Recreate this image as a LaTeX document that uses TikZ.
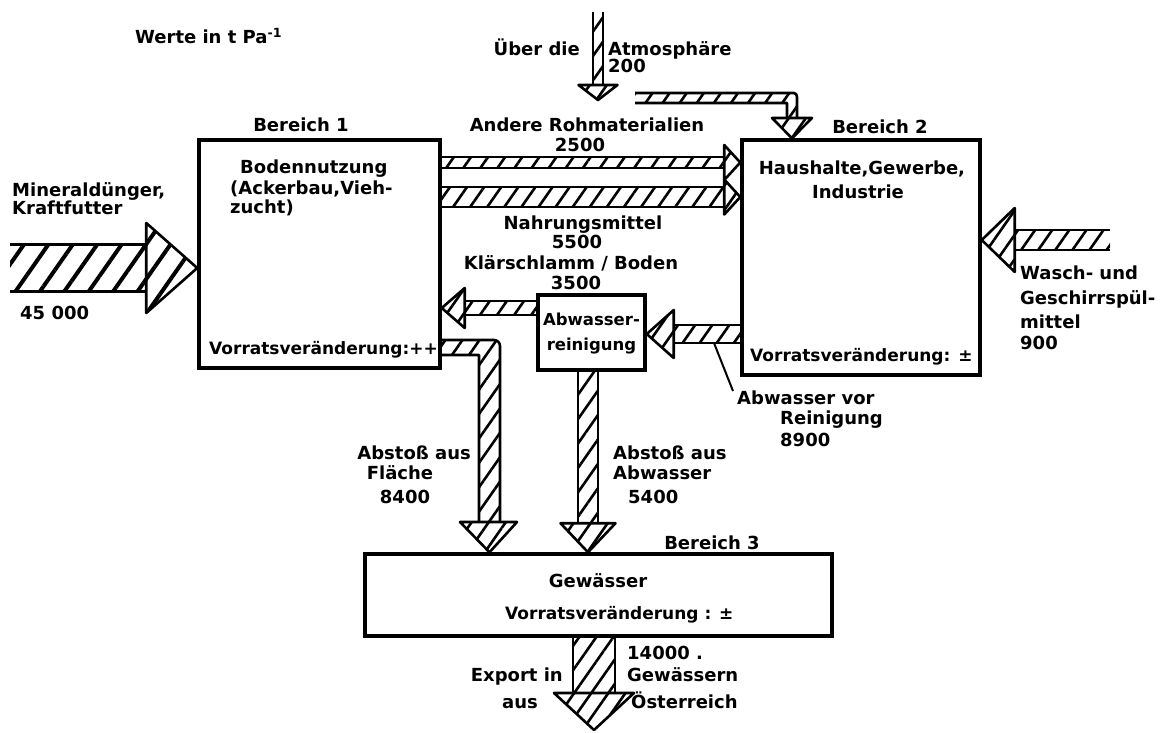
\documentclass[tikz,border=0pt]{standalone}
\usepackage{fontspec}
\setmainfont{DejaVu Sans}
\usetikzlibrary{calc,patterns.meta}

% hatched fat arrow: [pattern style] {tail}{tip}{shaft half width}{head half width}{head length}
\newcommand{\flowarrow}[6][hatch]{%
  \coordinate (fa-h) at ($(#3)!#6pt!(#2)$);
  \path[#1] ($(#2)!#4pt!90:(fa-h)$) -- ($(fa-h)!#4pt!90:(#3)$)
     -- ($(fa-h)!#4pt!-90:(#3)$) -- ($(#2)!#4pt!-90:(fa-h)$) -- cycle;
  \draw[flowline] ($(#2)!#4pt!90:(fa-h)$) -- ($(fa-h)!#4pt!90:(#3)$)
     ($(fa-h)!#4pt!-90:(#3)$) -- ($(#2)!#4pt!-90:(fa-h)$);
  \path[#1,flowline,draw] ($(fa-h)!#5pt!90:(#3)$) -- (#3) -- ($(fa-h)!#5pt!-90:(#3)$) -- cycle;
}

\tikzset{
  box/.style={draw, line width=3.5pt, inner sep=0pt},
  flowline/.style={line width=2.6pt, line join=round},
  hatch/.style={pattern={Lines[angle=55,distance=14pt,line width=2.6pt]}},
  hatchwide/.style={pattern={Lines[angle=55,distance=20pt,line width=4pt]}},
  lbl/.style={font=\bfseries\fontsize{18}{21}\selectfont, inner sep=0pt},
  lblsm/.style={font=\bfseries\fontsize{17}{20}\selectfont, inner sep=0pt},
  lblxs/.style={font=\bfseries\fontsize{16.5}{19}\selectfont, inner sep=0pt},
}

\begin{document}
\begin{tikzpicture}[x=1pt,y=1pt]
\useasboundingbox (0,0) rectangle (1163,-732);
\fill[white] (0,0) rectangle (1163,-732);

% the three regions and the treatment plant
\node[box, minimum width=241pt, minimum height=228pt] (b1) at (319.5,-254) {};
\node[box, minimum width=238pt, minimum height=235pt] (b2) at (861,-257.5) {};
\node[box, minimum width=107pt, minimum height=75pt] (ar) at (591.5,-332.5) {};
\node[box, minimum width=467pt, minimum height=82pt] (b3) at (598.5,-595) {};

% free ends of the inflows and outflows
\coordinate (minsrc) at (10,-268);
\coordinate (washsrc) at (1110,-240);
\coordinate (atmsrc) at (598,-12);
\coordinate (atmend) at (598,-100);
\coordinate (expend) at (594,-730);

% inflows
\flowarrow[hatchwide]{minsrc}{b1.west |- 0,-268}{23.5}{45}{51}
\flowarrow{washsrc}{b2.east |- 0,-240}{10}{32}{33}
\flowarrow{atmsrc}{atmend}{5}{19.5}{15}

% Bereich 1 -> Bereich 2
\flowarrow{b1.east |- 0,-162.5}{b2.west |- 0,-162.5}{5.5}{17.5}{16}
\flowarrow{b1.east |- 0,-197}{b2.west |- 0,-197}{10}{17.5}{16}

% sewage paths
\flowarrow{ar.west |- 0,-308}{b1.east |- 0,-308}{7}{20}{23}
\flowarrow{b2.west |- 0,-334}{ar.east |- 0,-334}{9}{24}{27}
\flowarrow{588,0 |- ar.south}{588,0 |- b3.north}{10}{27.5}{29}
\flowarrow{594,0 |- b3.south}{expend}{21}{40}{37}

% other raw materials, bent down into Bereich 2
\coordinate (rawtip) at (792,0 |- b2.north);
\path[hatch] (635,-93) -- (797,-93) -- (797,-118) -- (787,-118) -- (787,-103) -- (635,-103) -- cycle;
\draw[flowline] (635,-93) -- (794,-93) to[out=0,in=90] (797,-97) -- (797,-118)
                (635,-103) -- (787,-103) -- (787,-118);
\path[hatch,flowline,draw] (772,-118) -- (rawtip) -- (812,-118) -- cycle;

% run-off from the land surface
\coordinate (runtip) at (489.5,0 |- b3.north);
\path[hatch] (b1.east |- 0,-340) -- (500,-340) -- (500,-522) -- (479,-522) -- (479,-355) -- (b1.east |- 0,-355) -- cycle;
\draw[flowline] (b1.east |- 0,-340) -- (494,-340) to[out=0,in=90] (500,-346) -- (500,-522)
                (b1.east |- 0,-355) -- (479,-355) -- (479,-522);
\path[hatch,flowline,draw] (460,-522) -- (runtip) -- (517,-522) -- cycle;

% pointer to the untreated sewage label
\coordinate (ptra) at (714,-343);
\coordinate (ptrb) at (733,-391);
\draw[line width=2pt] (ptra) -- (ptrb);

% texts
\node[lbl, anchor=base west] (unit) at (135,-43.5) {Werte in t Pa\textsuperscript{-1}};
\node[lbl, anchor=base east] (atm1) at (580,-55.5) {Über die};
\node[lbl, anchor=base west] (atm2) at (608,-55.5) {Atmosphäre};
\node[lbl, anchor=base west] (atm3) at (608,-72) {200};

\node[lbl, anchor=base] (t1) at (301,-131.5) {Bereich 1};
\node[lbl, anchor=base] (t2) at (880,-133.5) {Bereich 2};
\node[lbl, anchor=base] (t3) at (712,-549.5) {Bereich 3};

\node[lbl, anchor=base] (raw1) at (587,-131.5) {Andere Rohmaterialien};
\node[lbl, anchor=base] (raw2) at (580,-151.5) {2500};
\node[lbl, anchor=base] (food1) at (583,-229.5) {Nahrungsmittel};
\node[lbl, anchor=base] (food2) at (577,-248.5) {5500};
\node[lbl, anchor=base] (sl1) at (571,-269.5) {Klärschlamm / Boden};
\node[lbl, anchor=base] (sl2) at (576,-289.5) {3500};

\node[lbl, anchor=base west] (b1a) at (240,-173.5) {Bodennutzung};
\node[lbl, anchor=base west] (b1b) at (230,-194.5) {(Ackerbau,Vieh-};
\node[lbl, anchor=base west] (b1c) at (230,-213.5) {zucht)};
\node[lblsm, anchor=base west] (b1d) at (209,-354) {Vorratsveränderung:++};

\node[lbl, anchor=base] (b2a) at (862,-174.5) {Haushalte,Gewerbe,};
\node[lbl, anchor=base] (b2b) at (858,-198.5) {Industrie};
\node[lblsm, anchor=base west] (b2c) at (750,-361) {Vorratsveränderung: ±};

\node[lblxs, anchor=base] (ara) at (591.5,-325) {Abwasser-};
\node[lblxs, anchor=base] (arb) at (591.5,-350) {reinigung};

\node[lbl, anchor=base west] (min1) at (12,-196.5) {Mineraldünger,};
\node[lbl, anchor=base west] (min2) at (12,-214.5) {Kraftfutter};
\node[lbl, anchor=base west] (min3) at (20,-319.5) {45 000};

\node[lbl, anchor=base west] (w1) at (1020,-279.5) {Wasch- und};
\node[lbl, anchor=base west] (w2) at (1020,-304.5) {Geschirrspül-};
\node[lbl, anchor=base west] (w3) at (1020,-328.5) {mittel};
\node[lbl, anchor=base west] (w4) at (1020,-349.5) {900};

\node[lbl, anchor=base west] (s1) at (737,-404) {Abwasser vor};
\node[lbl, anchor=base west] (s2) at (780,-424) {Reinigung};
\node[lbl, anchor=base west] (s3) at (780,-446) {8900};

\node[lbl, anchor=base east] (f1) at (471,-459.5) {Abstoß aus};
\node[lbl, anchor=base] (f2) at (400,-479.5) {Fläche};
\node[lbl, anchor=base] (f3) at (405,-503.5) {8400};

\node[lbl, anchor=base west] (a1) at (613,-459.5) {Abstoß aus};
\node[lbl, anchor=base west] (a2) at (613,-479.5) {Abwasser};
\node[lbl, anchor=base west] (a3) at (628,-503.5) {5400};

\node[lbl, anchor=base] (g1) at (598,-587.5) {Gewässer};
\node[lblsm, anchor=base west] (g2) at (505,-619.5) {Vorratsveränderung : ±};

\node[lbl, anchor=base west] (e1) at (627,-659.5) {14000 .};
\node[lbl, anchor=base west] (e2) at (627,-681.5) {Gewässern};
\node[lbl, anchor=base west] (e3) at (631,-708.5) {Österreich};
\node[lbl, anchor=base east] (e4) at (563,-681.5) {Export in};
\node[lbl, anchor=base east] (e5) at (538,-708.5) {aus};
\end{tikzpicture}
\end{document}
